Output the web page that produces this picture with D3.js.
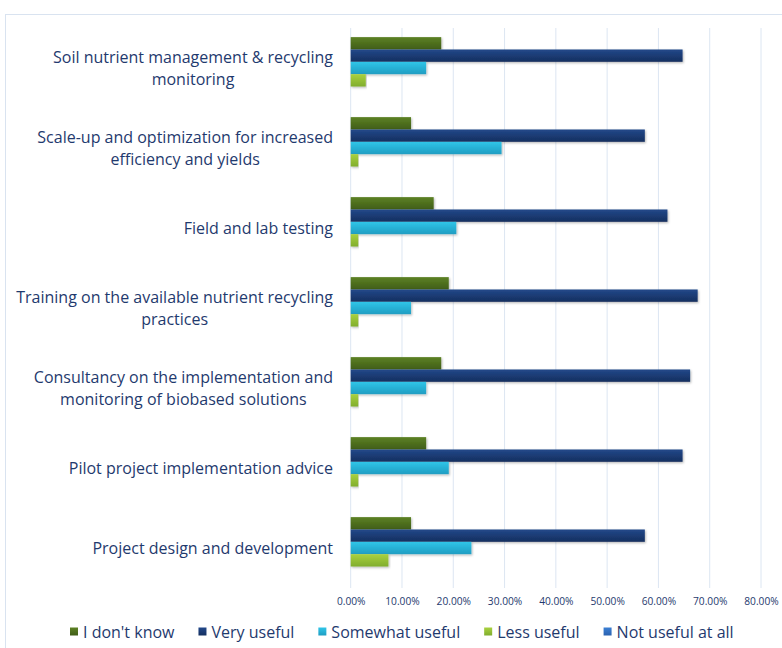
<!DOCTYPE html>
<html>
<head>
<meta charset="utf-8">
<script src="https://cdn.jsdelivr.net/npm/d3@7"></script>
<style>
  html, body { margin: 0; padding: 0; background: #ffffff; }
  svg { display: block; }
  text { font-family: "Open Sans", Lato, sans-serif; }
</style>
</head>
<body>
<svg id="chart" width="782" height="648"></svg>
<script>
// Survey categories (top to bottom) and line breaks used for the axis labels
const categories = [
  "Soil nutrient management & recycling monitoring",
  "Scale-up and optimization for increased efficiency and yields",
  "Field and lab testing",
  "Training on the available nutrient recycling practices",
  "Consultancy on the implementation and monitoring of biobased solutions",
  "Pilot project implementation advice",
  "Project design and development"
];
const categoryLines = [
  ["Soil nutrient management & recycling", "monitoring"],
  ["Scale-up and optimization for increased", "efficiency and yields"],
  ["Field and lab testing"],
  ["Training on the available nutrient recycling", "practices"],
  ["Consultancy on the implementation and", "monitoring of biobased solutions"],
  ["Pilot project implementation advice"],
  ["Project design and development"]
];

// Share of respondents per answer (fractions)
const seriesNames = ["I don't know", "Very useful", "Somewhat useful", "Less useful", "Not useful at all"];
const dontKnow     = [0.1765, 0.1176, 0.1618, 0.1912, 0.1765, 0.1471, 0.1176];
const veryUseful   = [0.6471, 0.5735, 0.6176, 0.6765, 0.6618, 0.6471, 0.5735];
const somewhat     = [0.1471, 0.2941, 0.2059, 0.1176, 0.1471, 0.1912, 0.2353];
const lessUseful   = [0.0294, 0.0147, 0.0147, 0.0147, 0.0147, 0.0147, 0.0735];
const notUseful    = [0, 0, 0, 0, 0, 0, 0];
const tickValues   = [0, 0.1, 0.2, 0.3, 0.4, 0.5, 0.6, 0.7, 0.8];

const seriesValues = [dontKnow, veryUseful, somewhat, lessUseful, notUseful];
const colors = {
  "I don't know":      ["#5d8124", "#405d18"],
  "Very useful":       ["#22488a", "#152f5f"],
  "Somewhat useful":   ["#30c5e8", "#1f9dc2"],
  "Less useful":       ["#a9d13f", "#80ad2d"],
  "Not useful at all": ["#3b7fd4", "#2a62b0"]
};
const textColor = "#1f3a6e";

const svg = d3.select("#chart");
const defs = svg.append("defs");

seriesNames.forEach((name, i) => {
  const g = defs.append("linearGradient")
    .attr("id", "grad" + i).attr("x1", 0).attr("y1", 0).attr("x2", 0).attr("y2", 1);
  g.append("stop").attr("offset", "0%").attr("stop-color", colors[name][0]);
  g.append("stop").attr("offset", "100%").attr("stop-color", colors[name][1]);
});
const shadow = defs.append("filter").attr("id", "shadow")
  .attr("x", "-5%").attr("y", "-30%").attr("width", "110%").attr("height", "170%");
shadow.append("feDropShadow").attr("dx", 1).attr("dy", 1.2).attr("stdDeviation", 0.9)
  .attr("flood-color", "#000").attr("flood-opacity", 0.28);

// Outer chart frame
svg.append("rect")
  .attr("x", 5.5).attr("y", 14.5).attr("width", 800).attr("height", 700)
  .attr("fill", "#ffffff").attr("stroke", "#d9e3f0").attr("stroke-width", 1);

const plot = { left: 350.7, right: 761, top: 28, bottom: 588 };

const x = d3.scaleLinear().domain([0, 0.8]).range([plot.left, plot.right]);
const y0 = d3.scaleBand().domain(categories).range([plot.top, plot.bottom])
  .paddingInner(0.228).paddingOuter(0.114);
const y1 = d3.scaleBand().domain(seriesNames).range([0, y0.bandwidth()]);

// Vertical gridlines
svg.append("g").selectAll("line").data(tickValues).join("line")
  .attr("x1", d => x(d)).attr("x2", d => x(d))
  .attr("y1", plot.top).attr("y2", plot.bottom)
  .attr("stroke", "#dce6f2").attr("stroke-width", 1);

// Bottom axis tick labels
const xAxis = d3.axisBottom(x).tickValues(tickValues)
  .tickFormat(d => d3.format(".2f")(d * 100) + "%").tickSize(0).tickPadding(0);
const ax = svg.append("g").attr("transform", `translate(0,${plot.bottom + 10})`).call(xAxis);
ax.select(".domain").remove();
ax.selectAll("text").attr("fill", textColor).attr("font-size", 10.2)
  .attr("font-family", "'Open Sans', sans-serif");

// Bars
const rows = [];
categories.forEach((c, ci) => {
  seriesNames.forEach((s, si) => rows.push({ cat: c, series: s, si, value: seriesValues[si][ci] }));
});
svg.append("g").selectAll("rect").data(rows.filter(d => d.value > 0)).join("rect")
  .attr("x", x(0))
  .attr("y", d => y0(d.cat) + y1(d.series))
  .attr("width", d => x(d.value) - x(0))
  .attr("height", y1.bandwidth())
  .attr("fill", d => `url(#grad${d.si})`)
  .attr("filter", "url(#shadow)");

// Category labels, wrapped lines centred within a right-aligned block
const labelRight = 333;
const lineGap = 22;
const labelSize = 16;
categories.forEach((c, ci) => {
  const lines = categoryLines[ci];
  const cy = y0(c) + y0.bandwidth() / 2;
  const g = svg.append("g");
  const texts = lines.map((ln, li) => g.append("text")
    .attr("y", cy + (li - (lines.length - 1) / 2) * lineGap)
    .attr("dy", "0.35em")
    .attr("fill", textColor).attr("font-size", labelSize)
    .attr("text-anchor", "middle")
    .text(ln));
  const maxW = d3.max(texts, t => t.node().getComputedTextLength());
  texts.forEach(t => t.attr("x", labelRight - maxW / 2));
});

// Legend
const legend = svg.append("g");
let lx = 70;
const ly = 632;
seriesNames.forEach((name, i) => {
  legend.append("rect").attr("x", lx).attr("y", ly - 4.5).attr("width", 8).attr("height", 8)
    .attr("fill", `url(#grad${i})`);
  const t = legend.append("text").attr("x", lx + 13).attr("y", ly).attr("dy", "0.35em")
    .attr("fill", textColor).attr("font-size", labelSize).text(name);
  lx += 13 + t.node().getComputedTextLength() + 24;
});
</script>
</body>
</html>
